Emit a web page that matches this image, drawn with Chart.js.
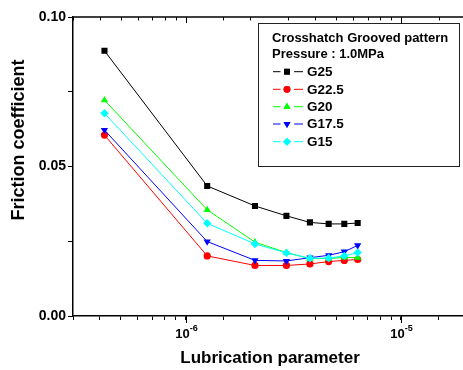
<!DOCTYPE html>
<html>
<head>
<meta charset="utf-8">
<script src="https://cdn.jsdelivr.net/npm/chart.js@4/dist/chart.umd.min.js"></script>
<style>
  html, body { margin: 0; padding: 0; background: #fff; overflow: hidden; }
  #wrap { width: 463px; height: 370px; overflow: hidden; }
</style>
</head>
<body>
<div id="wrap"><canvas id="c" width="470" height="370"></canvas></div>
<script>
// ---- data ----
const lubricationParam = [0.42e-6, 1.26e-6, 2.10e-6, 2.94e-6, 3.78e-6, 4.62e-6, 5.46e-6, 6.30e-6];
const seriesNames = ['G25', 'G22.5', 'G20', 'G17.5', 'G15'];
const g25   = [0.0887, 0.0435, 0.0368, 0.0335, 0.0313, 0.0308, 0.0308, 0.0311];
const g22_5 = [0.0605, 0.0201, 0.0169, 0.0169, 0.0174, 0.0182, 0.0186, 0.0189];
const g20   = [0.0722, 0.0355, 0.0247, 0.0212, 0.0192, 0.0192, 0.0196, 0.0195];
const g17_5 = [0.0622, 0.0249, 0.0186, 0.0184, 0.0195, 0.0203, 0.0215, 0.0236];
const g15   = [0.0678, 0.0310, 0.0241, 0.0211, 0.0193, 0.0194, 0.0201, 0.0212];
const yTickLabels = ['0.00', '0.05', '0.10'];
const xDecades = [1e-6, 1e-5];
const xDecadeExponents = ['-6', '-5'];
const legendTitle = ['Crosshatch Grooved pattern', 'Pressure : 1.0MPa'];
const xTitle = 'Lubrication parameter';
const yTitle = 'Friction coefficient';

// ---- styles ----
const FONT = "'Liberation Sans', Arial, sans-serif";
const colors = ['#000000', '#ff0000', '#00ff00', '#0000ff', '#00ffff'];
const markers = ['rect', 'circle', 'triangle', 'triangle', 'rectRot'];
const rotations = [0, 0, 0, 180, 0];
const radii = [4.3, 3.6, 4.2, 4.2, 4.2];
const allSeries = [g25, g22_5, g20, g17_5, g15];

const datasets = allSeries.map((vals, i) => ({
  label: seriesNames[i],
  data: vals.map((v, j) => ({ x: lubricationParam[j], y: v })),
  borderColor: colors[i],
  backgroundColor: colors[i],
  borderWidth: 1,
  pointStyle: markers[i],
  rotation: rotations[i],
  pointRadius: radii[i],
  pointBorderWidth: 0,
  pointBackgroundColor: colors[i],
  order: allSeries.length - 1 - i,
  tension: 0
}));

function drawMarker(ctx, style, x, y, r, rot, color) {
  ctx.save();
  ctx.fillStyle = color;
  ctx.strokeStyle = color;
  ctx.lineWidth = 0;
  Chart.helpers.drawPoint(ctx, { pointStyle: style, rotation: rot, radius: r, borderWidth: 0 }, x, y);
  ctx.fill();
  ctx.restore();
}

const decor = {
  id: 'decor',
  afterDraw(chart) {
    const ctx = chart.ctx;
    const a = chart.chartArea;
    const xs = chart.scales.x;
    ctx.save();
    // top frame line
    ctx.strokeStyle = '#000';
    ctx.lineWidth = 1.5;
    ctx.beginPath();
    ctx.moveTo(a.left, a.top);
    ctx.lineTo(a.right + 5, a.top);
    ctx.stroke();
    // top inward ticks
    ctx.lineWidth = 1;
    xs.ticks.forEach(t => {
      const px = Math.round(xs.getPixelForValue(t.value)) + 0.5;
      const isDec = xDecades.some(d => Math.abs(d - t.value) / d < 1e-6);
      ctx.beginPath();
      ctx.moveTo(px, a.top);
      ctx.lineTo(px, a.top + (isDec ? 6 : 3.5));
      ctx.stroke();
    });
    // bottom major ticks (longer) and labels
    ctx.fillStyle = '#000';
    xDecades.forEach((d, i) => {
      const px = Math.round(xs.getPixelForValue(d)) + 0.5;
      ctx.beginPath();
      ctx.moveTo(px, a.bottom);
      ctx.lineTo(px, a.bottom + 7);
      ctx.stroke();
      ctx.font = 'bold 13px ' + FONT;
      ctx.textBaseline = 'alphabetic';
      ctx.textAlign = 'left';
      const w1 = ctx.measureText('10').width;
      ctx.font = 'bold 9px ' + FONT;
      const w2 = ctx.measureText(xDecadeExponents[i]).width;
      const x0 = px - (w1 + w2) / 2;
      ctx.font = 'bold 13px ' + FONT;
      ctx.fillText('10', x0, 338);
      ctx.font = 'bold 9px ' + FONT;
      ctx.fillText(xDecadeExponents[i], x0 + w1, 331);
    });
    // axis titles
    ctx.font = 'bold 17px ' + FONT;
    ctx.textAlign = 'center';
    ctx.textBaseline = 'middle';
    ctx.fillText(xTitle, (a.left + 463) / 2 + 2, 358);
    ctx.save();
    ctx.translate(19, 140);
    ctx.rotate(-Math.PI / 2);
    ctx.font = 'bold 18px ' + FONT;
    ctx.fillText(yTitle, 0, 0);
    ctx.restore();
    // legend
    const lx = 258.5, ly = 23.5, lw = 201, lh = 143;
    ctx.fillStyle = '#fff';
    ctx.fillRect(lx, ly, lw, lh);
    ctx.strokeStyle = '#222';
    ctx.lineWidth = 1;
    ctx.strokeRect(lx, ly, lw, lh);
    ctx.fillStyle = '#000';
    ctx.textAlign = 'left';
    ctx.textBaseline = 'middle';
    ctx.font = 'bold 13px ' + FONT;
    ctx.fillText(legendTitle[0], 272, 38);
    ctx.fillText(legendTitle[1], 272, 54.5);
    const rowY = [71.7, 89.3, 106.7, 124, 141.7];
    seriesNames.forEach((name, i) => {
      const y = rowY[i];
      ctx.strokeStyle = colors[i];
      ctx.lineWidth = 1;
      ctx.beginPath();
      ctx.moveTo(273, y); ctx.lineTo(280.5, y);
      ctx.moveTo(294, y); ctx.lineTo(303, y);
      ctx.stroke();
      drawMarker(ctx, markers[i], 287, y, radii[i] * 0.95, rotations[i], colors[i]);
      ctx.fillStyle = '#000';
      ctx.font = 'bold 13.5px ' + FONT;
      ctx.fillText(name, 307, y + 0.5);
    });
    ctx.restore();
  }
};

new Chart(document.getElementById('c'), {
  type: 'line',
  data: { datasets },
  options: {
    responsive: false,
    animation: false,
    layout: { padding: { top: 17, right: 4, left: 0, bottom: 0 } },
    plugins: { legend: { display: false }, tooltip: { enabled: false } },
    scales: {
      x: {
        type: 'logarithmic',
        min: 3e-7,
        max: 2e-5,
        afterFit: s => { s.height = 54; },
        border: { display: true, color: '#000', width: 1.5 },
        grid: { drawOnChartArea: false, drawTicks: true, tickLength: 4, color: '#000', tickColor: '#000' },
        ticks: { display: false }
      },
      y: {
        min: 0,
        max: 0.1,
        afterFit: s => { s.width = 73; },
        border: { display: true, color: '#000', width: 1.5 },
        grid: { drawOnChartArea: false, drawTicks: true, tickLength: 5, color: '#000', tickColor: '#000' },
        ticks: {
          stepSize: 0.025,
          padding: 2,
          color: '#000',
          font: { family: FONT, size: 14, weight: 'bold' },
          callback: (v) => {
            const idx = Math.round(v / 0.05);
            return Math.abs(v - idx * 0.05) < 1e-9 ? yTickLabels[idx] : '';
          }
        }
      }
    }
  },
  plugins: [decor]
});
</script>
</body>
</html>
